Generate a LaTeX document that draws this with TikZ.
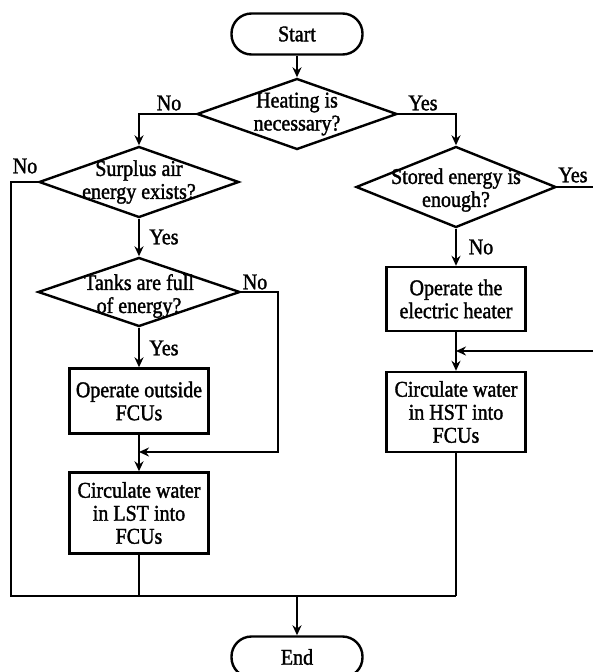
\documentclass[tikz,border=0pt]{standalone}
\usepackage{fontspec}
\setmainfont{Liberation Serif}[FakeStretch=0.89,FakeBold=1.5]
\usetikzlibrary{shapes.geometric,arrows.meta}
\begin{document}
\begin{tikzpicture}[x=1pt,y=-1pt,
  every node/.style={font=\fontsize{22.5}{23}\selectfont},
  line/.style={line width=2.4pt},
  arr/.style={line width=2.4pt,-{Stealth[length=10pt,width=9pt]}},
  term/.style={draw,line width=2.4pt,rectangle,rounded corners=20pt,minimum width=131pt,minimum height=41pt,inner sep=0pt},
  proc/.style={draw,line width=2.4pt,rectangle,minimum width=139pt,align=center,inner sep=0pt},
  dec/.style={draw,line width=2.4pt,diamond,inner sep=0pt},
  dtxt/.style={align=center,inner sep=0pt},
  lbl/.style={inner sep=0pt}]
\useasboundingbox (0,0) rectangle (593,672);
\node[term] (start) at (297,34) {Start};
\node[dec,minimum width=200pt,minimum height=71pt,label={[dtxt]center:Heating is\\necessary?}] (d1) at (297,114) {};
\node[dec,minimum width=200pt,minimum height=71pt,label={[dtxt]center:Surplus air\\energy exists?}] (d2) at (139,182) {};
\node[dec,minimum width=202pt,minimum height=69pt,label={[dtxt,yshift=-4pt]center:Tanks are full\\of energy?}] (d3) at (139,292) {};
\node[dec,minimum width=200pt,minimum height=81pt,label={[dtxt,yshift=-3pt]center:Stored energy is\\enough?}] (d4) at (456,187) {};
\node[proc,minimum height=65pt] (b1) at (139,401) {Operate outside\\FCUs};
\node[proc,minimum height=81pt] (b2) at (139,513) {Circulate water\\in LST into\\FCUs};
\node[proc,minimum height=64pt] (b3) at (456,299) {Operate the\\electric heater};
\node[proc,minimum height=80pt] (b4) at (456,412) {Circulate water\\in HST into\\FCUs};
\node[term] (end) at (297,657) {End};
% labels
\node[lbl] (l1) at (169,103) {No};
\node[lbl] (l2) at (423,103) {Yes};
\node[lbl] (l3) at (25,166) {No};
\node[lbl] (l4) at (164,237) {Yes};
\node[lbl] (l5) at (255,282) {No};
\node[lbl] (l6) at (164,348) {Yes};
\node[lbl] (l7) at (573,175) {Yes};
\node[lbl] (l8) at (481,247) {No};
% coordinates
\coordinate (busL) at (11,596);
\coordinate (busR) at (456,596);
\coordinate (busM) at (297,596);
\coordinate (m1) at (139,452);
\coordinate (d3r) at (278,452);
\coordinate (yesR) at (593,187);
\coordinate (inR) at (593,351);
\coordinate (m2) at (456,351);
% connectors
\draw[arr] (start) -- (d1);
\draw[arr] (d1.west) -| (d2.north);
\draw[arr] (d1.east) -| (d4.north);
\draw[line] (d2.west) -| (busL) -- (busR);
\draw[arr] (busM) -- (end);
\draw[arr] (d2.south) -- (d3.north);
\draw[arr] (d3.south) -- (b1.north);
\draw[arr] (d3.east) -| (d3r) -- (m1);
\draw[arr] (b1.south) -- (b2.north);
\draw[line] (b2.south) -- (b2.south |- busL);
\draw[line] (b4.south) -- (busR);
\draw[arr] (d4.south) -- (b3.north);
\draw[arr] (b3.south) -- (b4.north);
\draw[line] (d4.east) -- (yesR);
\draw[arr] (inR) -- (m2);
\end{tikzpicture}
\end{document}
